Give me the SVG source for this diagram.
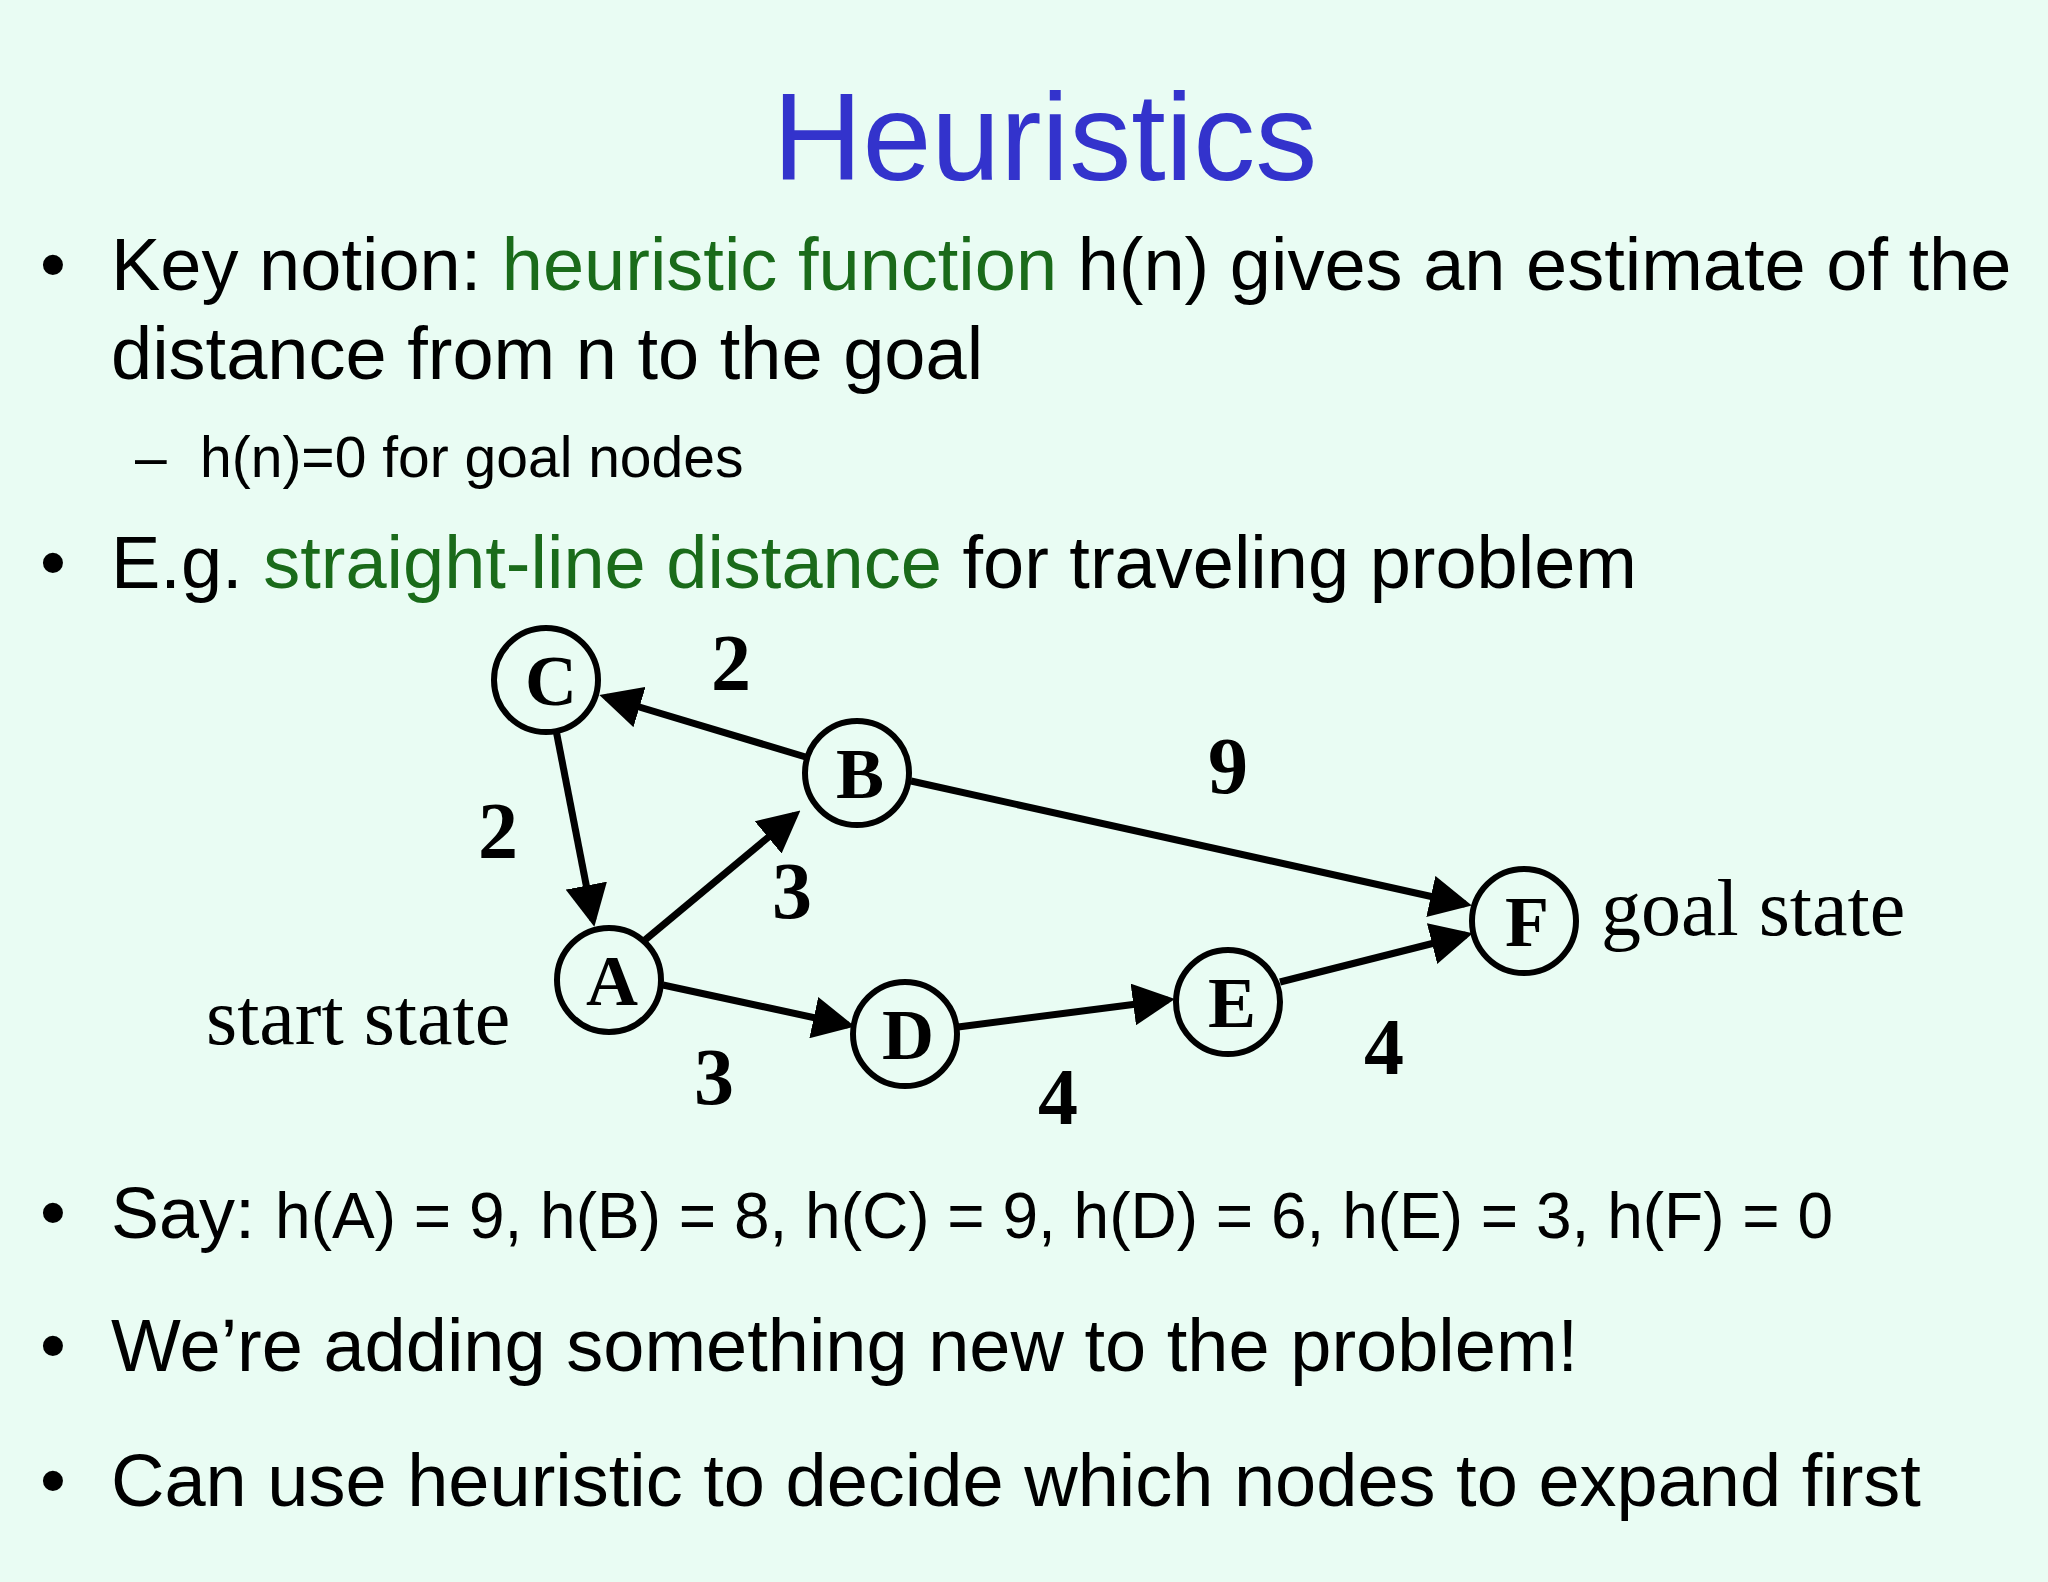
<svg xmlns="http://www.w3.org/2000/svg" width="2048" height="1582" viewBox="0 0 2048 1582">
<style>
.s{font-family:"Liberation Sans",Arial,sans-serif;fill:#000}
.g{fill:#1a6b1a}
.n{fill:#e9fcf3;stroke:#000;stroke-width:6}
.l{font-family:"Liberation Serif","Times New Roman",serif;font-weight:bold;font-size:72px;text-anchor:middle}
.w{font-family:"Liberation Serif","Times New Roman",serif;font-weight:bold;font-size:80px;text-anchor:middle}
.t{font-family:"Liberation Serif","Times New Roman",serif;font-size:80px}
.e{stroke:#000;stroke-width:7;fill:none;marker-end:url(#ah)}
</style>
<defs><marker id="ah" markerWidth="6" markerHeight="6" refX="5" refY="3" orient="auto" markerUnits="strokeWidth"><path d="M0,0 L6,3 L0,6 z" fill="#000"/></marker></defs>
<rect width="2048" height="1582" fill="#e9fcf3"/>
<text x="1045" y="180" font-family="Liberation Sans,Arial,sans-serif" font-size="124" fill="#3333cc" text-anchor="middle">Heuristics</text>
<text class="s" font-size="74"><tspan x="40" y="290">•</tspan><tspan x="111" y="290">Key notion: <tspan class="g">heuristic function</tspan> h(n) gives an estimate of the</tspan><tspan x="111" y="379">distance from n to the goal</tspan></text>
<text class="s" font-size="57"><tspan x="135" y="477">–</tspan><tspan x="200" y="477">h(n)=0 for goal nodes</tspan></text>
<text class="s" font-size="74"><tspan x="40" y="588">•</tspan><tspan x="111" y="588">E.g. <tspan class="g">straight-line distance</tspan> for traveling problem</tspan></text>
<g id="edges">
<line class="e" x1="809" y1="758" x2="606" y2="697"/>
<line class="e" x1="556" y1="730" x2="593" y2="920"/>
<line class="e" x1="645" y1="940" x2="795" y2="815"/>
<line class="e" x1="663" y1="985" x2="848" y2="1025"/>
<line class="e" x1="958" y1="1027" x2="1168" y2="1000"/>
<line class="e" x1="1280" y1="982" x2="1466" y2="935"/>
<line class="e" x1="911" y1="781" x2="1465" y2="904"/>
</g>
<g id="C"><circle class="n" cx="546" cy="680" r="52"/><text class="l" x="551" y="705">C</text></g>
<g id="B"><circle class="n" cx="857" cy="773" r="52"/><text class="l" x="860" y="798">B</text></g>
<g id="A"><circle class="n" cx="609" cy="980" r="52"/><text class="l" x="612" y="1005">A</text></g>
<g id="D"><circle class="n" cx="905" cy="1034" r="52"/><text class="l" x="908" y="1059">D</text></g>
<g id="E"><circle class="n" cx="1228" cy="1002" r="52"/><text class="l" x="1232" y="1027">E</text></g>
<g id="F"><circle class="n" cx="1524" cy="921" r="52"/><text class="l" x="1527" y="946">F</text></g>
<g class="w">
<text x="731" y="690">2</text><text x="1228" y="793">9</text><text x="498" y="858">2</text>
<text x="792" y="918">3</text><text x="714" y="1104">3</text><text x="1058" y="1124">4</text><text x="1384" y="1074">4</text>
</g>
<text class="t" x="206" y="1044">start state</text>
<text class="t" x="1601" y="935">goal state</text>
<text class="s"><tspan x="40" y="1238" font-size="74">•</tspan><tspan x="111" y="1238" font-size="72">Say: </tspan><tspan font-size="64">h(A) = 9, h(B) = 8, h(C) = 9, h(D) = 6, h(E) = 3, h(F) = 0</tspan></text>
<text class="s" font-size="74"><tspan x="40" y="1371">•</tspan><tspan x="111" y="1371">We’re adding something new to the problem!</tspan></text>
<text class="s" font-size="74"><tspan x="40" y="1506">•</tspan><tspan x="111" y="1506">Can use heuristic to decide which nodes to expand first</tspan></text>
</svg>
